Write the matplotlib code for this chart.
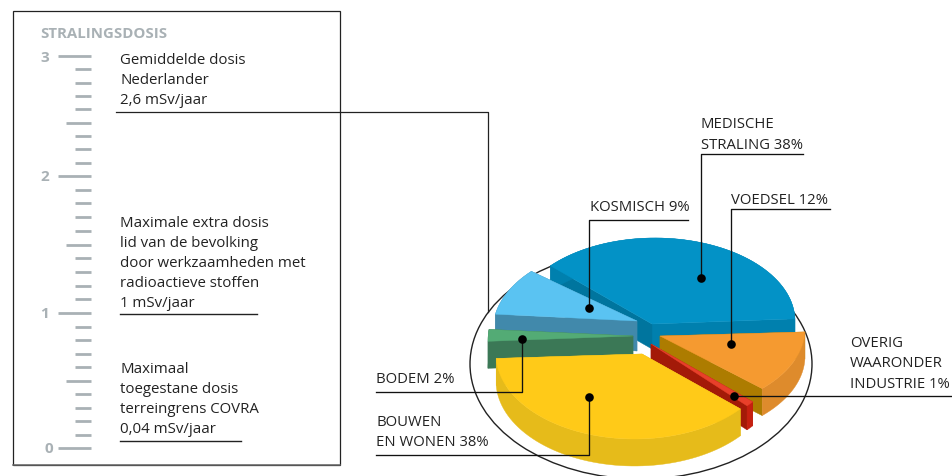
import numpy as np
import matplotlib
matplotlib.use("Agg")
import matplotlib.pyplot as plt
from matplotlib.patches import Polygon, Ellipse, Rectangle

# ---- data ----
sources = ["Medische straling", "Kosmisch", "Bodem", "Bouwen en wonen", "Overig", "Voedsel"]
shares = [38, 9, 2, 38, 1, 12]
scale_major = [0, 1, 2, 3]
doses_text = ["Gemiddelde dosis\nNederlander\n2,6 mSv/jaar",
              "Maximale extra dosis\nlid van de bevolking\ndoor werkzaamheden met\nradioactieve stoffen\n1 mSv/jaar",
              "Maximaal\ntoegestane dosis\nterreingrens COVRA\n0,04 mSv/jaar"]

# ---- styling / geometry of the drawing ----
FONT = "Open Sans"
plt.rcParams["font.family"] = [FONT, "DejaVu Sans"]
GREY = "#a9b1b5"
TXT = "#222222"

fig = plt.figure(figsize=(9.52, 4.77), dpi=100)
ax = fig.add_axes([0, 0, 1, 1])
ax.set_xlim(0, 952)
ax.set_ylim(477, 0)
ax.axis("off")

# frame
ax.add_patch(Rectangle((12.5, 12), 327.5, 454, fill=False, ec="#222222", lw=0.9, zorder=1))
ax.plot([12.5, 340], [466, 466], color="#666666", lw=1.1, zorder=1)
ax.text(40, 33.5, "STRALINGSDOSIS", fontsize=10.8, fontweight="bold", color=GREY, va="center", ha="left")


def dose_y(d):
    return np.interp(d, [0, 1, 2, 3], [449, 314, 177, 57])


# scale
subs = [(0, 1, 10, 5), (1, 2, 10, 5), (2, 3, 9, 4)]
for lo, hi, n, mid_i in subs:
    for i in range(1, n):
        d = lo + (hi - lo) * i / n
        ax.plot([66 if i == mid_i else 75, 91], [dose_y(d)] * 2, color=GREY, lw=2, solid_capstyle="butt")
for d in scale_major:
    ax.plot([58, 91], [dose_y(d)] * 2, color=GREY, lw=2, solid_capstyle="butt")
    ax.text(49 if d != 0 else 53, dose_y(d) + 0.5, str(d), fontsize=11, fontweight="bold", color=GREY,
            ha="right", va="center")

# dose notes
tops = [60.5, 223.5, 369.5]
for s, t in zip(doses_text, tops):
    for i, line in enumerate(s.split("\n")):
        ax.text(120, t + 20.1 * i, line, fontsize=10.85, color=TXT, ha="left", va="center")
ax.plot([116, 487.5, 487.5], [113, 113, 313], color="#222222", lw=0.9, zorder=1)
ax.plot([120, 257], [314.5, 314.5], color="#222222", lw=1)
ax.plot([120, 241], [441.5, 441.5], color="#222222", lw=1)

# pie
ax.add_patch(Ellipse((641, 365), 342, 230, fill=False, ec="#222222", lw=1, zorder=2))

wedges = {
    # start angle, apex, arc centre, rx, ry, depth, top, start radial wall, end radial wall, arc wall
    "Medische straling": (1.5, (652, 325), (655, 322), 140, 83, 25, "#0392c6", "#0080ae", "#00759e", "#0080ae"),
    "Kosmisch": (137, (637, 322), (636, 331), 143, 86, 30, "#5ac3f2", "#4189ab", "#4189ab", "#4189ab"),
    "Bodem": (173, (633, 337), (633, 342), 145, 95, 27, "#53ab75", "#3b7856", "#3b7856", "#3b7856"),
    "Overig": (318, (651, 345), (643, 350), 140, 85, 24, "#e8402a", "#a31a08", "#a31a08", "#c62010"),
    "Voedsel": (-45.2, (660, 337), (660, 330), 145, 84, 27, "#f59a30", "#ad7c00", "#ad7c00", "#de8b2c"),
    "Bouwen en wonen": (183, (642, 355), (634.5, 355), 138.5, 85, 27, "#ffca18", "#e6bb1a", "#e6bb1a", "#e6bb1a"),
}
order = ["Medische straling", "Kosmisch", "Bodem", "Voedsel", "Overig", "Bouwen en wonen"]
z = 3
for name in order:
    start, apex, c, rx, ry, depth, top, w_start, w_end, w_arc = wedges[name]
    span = shares[sources.index(name)] * 3.6
    th = np.radians(np.linspace(start, start + span, 60))
    arc = np.column_stack([c[0] + rx * np.cos(th), c[1] - ry * np.sin(th)])
    down = np.array([0, depth])
    apex = np.array(apex, float)
    for a, col in ((arc[0], w_start), (arc[-1], w_end)):
        ax.add_patch(Polygon([apex, a, a + down, apex + down], fc=col, ec=col, lw=0.3, zorder=z))
    ax.add_patch(Polygon(np.vstack([arc, (arc + down)[::-1]]), fc=w_arc, ec=w_arc, lw=0.3, zorder=z))
    ax.add_patch(Polygon(np.vstack([apex, arc]), fc=top, ec=top, lw=0.3, zorder=z + 0.5))
    z += 1

# leaders
LW = 0.95
leaders = [
    ([803, 701, 701], [155, 155, 279]),
    ([688, 589, 589], [221, 221, 309]),
    ([830, 731, 731], [210, 210, 345]),
    ([952, 734], [397, 397]),
    ([376, 522, 522], [393, 393, 340]),
    ([376, 589, 589], [456, 456, 398]),
]
for xs, ys in leaders:
    ax.plot(xs, ys, color="#111111", lw=LW, zorder=20)
    ax.plot(xs[-1], ys[-1], "o", color="black", ms=6.2, mew=0, zorder=21)

labels = [
    (701, 124.5, "MEDISCHE"), (701, 145.5, "STRALING 38%"),
    (590, 208, "KOSMISCH 9%"), (731, 201, "VOEDSEL 12%"),
    (850, 344, "OVERIG"), (850, 364, "WAARONDER"), (850, 385, "INDUSTRIE 1%"),
    (376, 380, "BODEM 2%"), (376, 423, "BOUWEN"), (376, 443, "EN WONEN 38%"),
]
for x, y, t in labels:
    ax.text(x, y, t, fontsize=10.7, color=TXT, ha="left", va="center", zorder=22)

fig.savefig("out.png", dpi=100)
